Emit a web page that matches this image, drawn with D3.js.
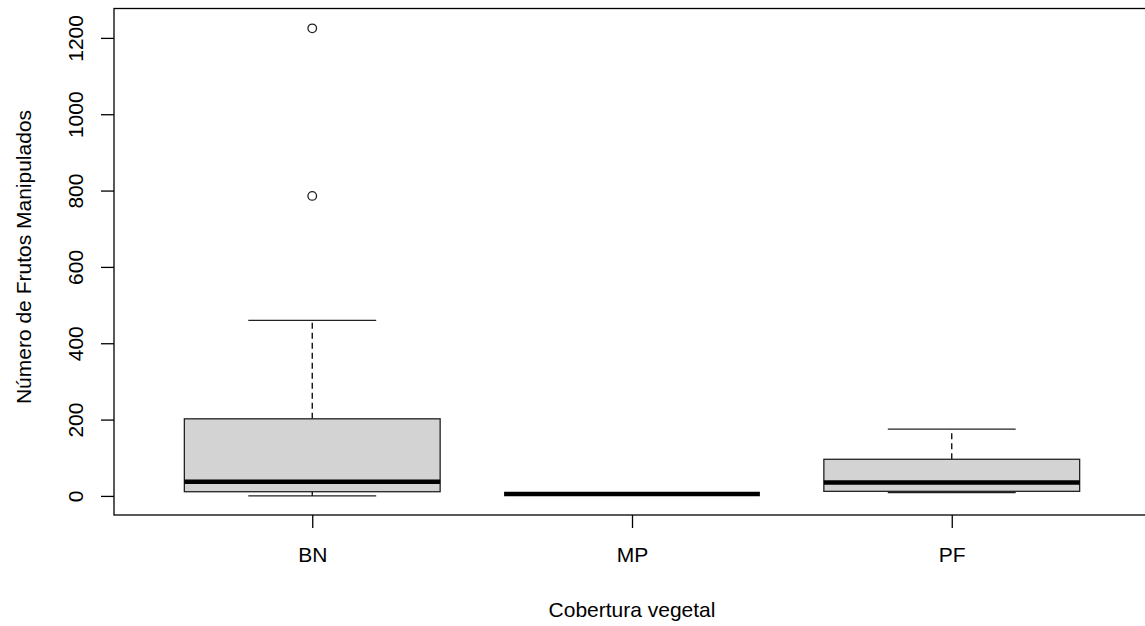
<!DOCTYPE html>
<html>
<head>
<meta charset="utf-8">
<script src="https://cdn.jsdelivr.net/npm/d3@7"></script>
<style>
  body { margin: 0; background: #fff; }
  text { font-family: "Liberation Sans", Arial, sans-serif; fill: #000; }
</style>
</head>
<body>
<svg id="chart"></svg>
<script>
var width = 1145
var height = 626

// boxplot stats
var categories = ['BN', 'MP', 'PF']
var whiskerLow = [0, 5, 9]
var q1 = [11, 5, 12]
var medians = [37, 5, 35]
var q3 = [202, 5, 96]
var whiskerHigh = [460, 5, 175]
var outliers = [[786, 1225], [], []]
var yTicks = [0, 200, 400, 600, 800, 1000, 1200]

var frame = {left: 114, right: 1150, top: 8.5, bottom: 515}
var fontSize = '21px'

var svg = d3.select('#chart')
    .attr('width', width)
    .attr('height', height)

var x = d3.scaleLinear().domain([0.38, 3.62]).range([frame.left, frame.right])
var y = d3.scaleLinear().domain([-50, 1277]).range([frame.bottom, frame.top])

var boxW = x(1.4) - x(1)   // half width of box
var capW = boxW / 2

// frame
svg.append('rect')
    .attr('x', frame.left).attr('y', frame.top)
    .attr('width', frame.right - frame.left)
    .attr('height', frame.bottom - frame.top)
    .attr('fill', 'none').attr('stroke', '#000').attr('stroke-width', 1.3)

// y axis
var yAxis = svg.append('g')
    .attr('transform', 'translate(' + frame.left + ',0)')
    .call(d3.axisLeft(y).tickValues(yTicks).tickSize(13).tickSizeOuter(0).tickFormat(d3.format('d')))
yAxis.select('.domain').remove()
yAxis.selectAll('line').attr('stroke', '#000').attr('stroke-width', 1.3)
yAxis.selectAll('text')
    .attr('x', 0).attr('y', 0).attr('dy', null)
    .attr('transform', 'translate(-39,0) rotate(-90)')
    .attr('text-anchor', 'middle')
    .attr('dominant-baseline', 'central')
    .style('font-size', fontSize)
    .style('font-family', '"Liberation Sans", Arial, sans-serif')

// x axis
var xAxis = svg.append('g')
    .attr('transform', 'translate(0,' + frame.bottom + ')')
    .call(d3.axisBottom(x).tickValues([1, 2, 3]).tickSize(13).tickSizeOuter(0)
        .tickFormat(function (d) { return categories[d - 1] }))
xAxis.select('.domain').remove()
xAxis.selectAll('line').attr('stroke', '#000').attr('stroke-width', 1.3)
xAxis.selectAll('text')
    .attr('y', 40).attr('dy', '0.35em')
    .style('font-size', fontSize)
    .style('font-family', '"Liberation Sans", Arial, sans-serif')

// axis titles
svg.append('text')
    .attr('transform', 'translate(23,257) rotate(-90)')
    .attr('text-anchor', 'middle')
    .attr('dominant-baseline', 'central')
    .style('font-size', fontSize)
    .text('Número de Frutos Manipulados')

svg.append('text')
    .attr('x', x(2)).attr('y', 609)
    .attr('text-anchor', 'middle')
    .attr('dominant-baseline', 'central')
    .style('font-size', fontSize)
    .text('Cobertura vegetal')

// boxes
var data = categories.map(function (c, i) {
    return {i: i + 1, lo: whiskerLow[i], q1: q1[i], med: medians[i], q3: q3[i], hi: whiskerHigh[i], out: outliers[i]}
})

var g = svg.selectAll('.box').data(data).enter().append('g').attr('class', 'box')

// dashed whiskers
g.append('line')
    .attr('x1', function (d) { return x(d.i) }).attr('x2', function (d) { return x(d.i) })
    .attr('y1', function (d) { return y(d.q3) }).attr('y2', function (d) { return y(d.hi) })
    .attr('stroke', '#000').attr('stroke-width', 1.3).attr('stroke-dasharray', '6,4')
g.append('line')
    .attr('x1', function (d) { return x(d.i) }).attr('x2', function (d) { return x(d.i) })
    .attr('y1', function (d) { return y(d.q1) }).attr('y2', function (d) { return y(d.lo) })
    .attr('stroke', '#000').attr('stroke-width', 1.3).attr('stroke-dasharray', '6,4')

// caps
;['hi', 'lo'].forEach(function (k) {
    g.append('line')
        .attr('x1', function (d) { return x(d.i) - capW }).attr('x2', function (d) { return x(d.i) + capW })
        .attr('y1', function (d) { return y(d[k]) }).attr('y2', function (d) { return y(d[k]) })
        .attr('stroke', '#222').attr('stroke-width', 1.3)
})

g.append('rect')
    .attr('x', function (d) { return x(d.i) - boxW })
    .attr('width', boxW * 2)
    .attr('y', function (d) { return y(d.q3) })
    .attr('height', function (d) { return y(d.q1) - y(d.q3) })
    .attr('fill', '#d3d3d3').attr('stroke', '#222').attr('stroke-width', 1.3)

g.append('line')
    .attr('x1', function (d) { return x(d.i) - boxW }).attr('x2', function (d) { return x(d.i) + boxW })
    .attr('y1', function (d) { return y(d.med) }).attr('y2', function (d) { return y(d.med) })
    .attr('stroke', '#000').attr('stroke-width', 4.5)

// outliers
g.each(function (d) {
    d3.select(this).selectAll('circle').data(d.out).enter().append('circle')
        .attr('cx', x(d.i)).attr('cy', function (v) { return y(v) })
        .attr('r', 4.3)
        .attr('fill', 'none').attr('stroke', '#222').attr('stroke-width', 1.3)
})
</script>
</body>
</html>
